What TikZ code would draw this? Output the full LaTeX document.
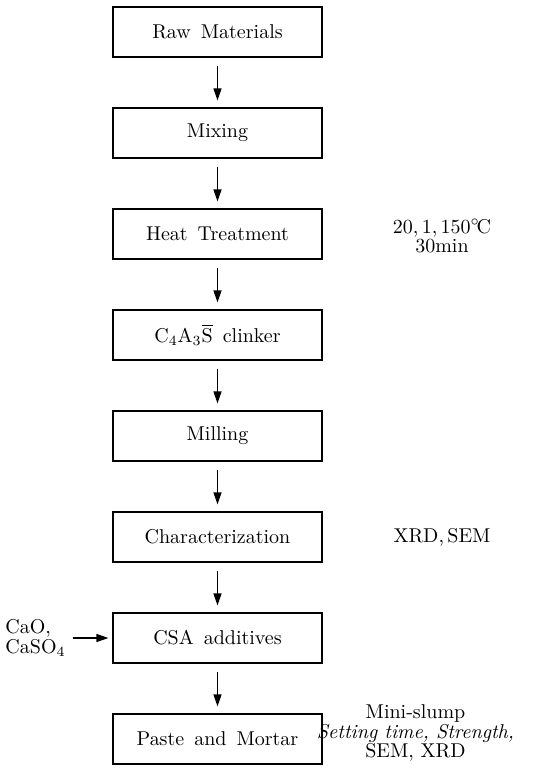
\documentclass[tikz,border=0pt]{standalone}
\usetikzlibrary{arrows.meta}

\tikzstyle{process} = [draw, rectangle, line width=0.6pt, minimum width=104.5pt, minimum height=25pt, text centered]
\tikzstyle{note} = [align=center, font=\fontsize{10}{9.6}\selectfont, inner sep=0pt]
\tikzstyle{arrow} = [line width=0.6pt, -{Triangle[length=6pt, width=4pt]}, shorten <=4pt, shorten >=3.5pt]

\begin{document}
\begin{tikzpicture}[x=0.5pt, y=-0.5pt, node distance=50.5pt]
\useasboundingbox (0,0) rectangle (535,768);

% Process steps
\node (raw) [process] at (217.5,32) {Raw\enspace Materials};
\node (mix) [process, below of=raw] {Mixing};
\node (heat) [process, below of=mix] {Heat\enspace Treatment};
\node (clinker) [process, below of=heat] {C$_4$A$_3\overline{\mathrm{S}}$\enspace clinker};
\node (mill) [process, below of=clinker] {Milling};
\node (charact) [process, below of=mill] {Characterization};
\node (csa) [process, below of=charact] {CSA\enspace additives};
\node (paste) [process, below of=csa] {Paste\enspace and\enspace Mortar};

% Conditions and tests
\node [note, right of=heat, xshift=61.75pt, yshift=-1pt] {20,\,1,\,150$^{\circ}\!$C\\30min};
\node [note, right of=charact, xshift=61.75pt] {XRD,\,SEM};
\node [note, right of=paste, xshift=48.5pt, yshift=3pt] {Mini-slump\\\textit{Setting time, Strength,}\\SEM, XRD};

% Additives
\node (oxide) [align=left, font=\fontsize{10}{9.8}\selectfont, left of=csa, xshift=-40.5pt] {CaO,\\CaSO$_4$};

% Arrows
\draw [arrow] (raw) -- (mix);
\draw [arrow] (mix) -- (heat);
\draw [arrow] (heat) -- (clinker);
\draw [arrow] (clinker) -- (mill);
\draw [arrow] (mill) -- (charact);
\draw [arrow] (charact) -- (csa);
\draw [arrow] (csa) -- (paste);
\draw [arrow, shorten <=0pt, shorten >=2pt] (oxide) -- (csa);

\end{tikzpicture}
\end{document}
